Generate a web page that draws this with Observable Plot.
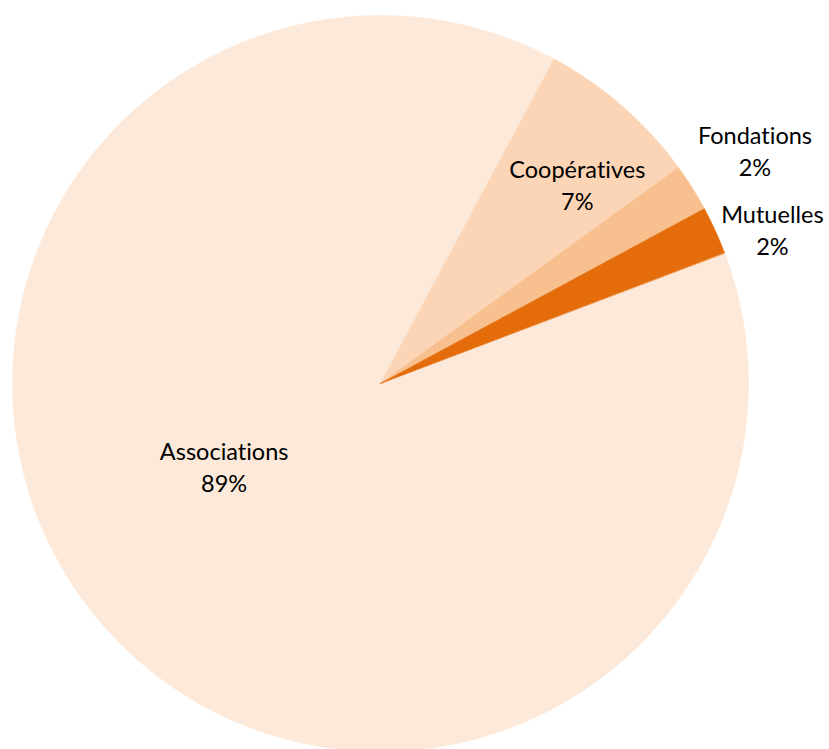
<!DOCTYPE html>
<html>
<head>
<meta charset="utf-8">
<script src="https://cdn.jsdelivr.net/npm/d3@7"></script>
<script src="https://cdn.jsdelivr.net/npm/@observablehq/plot@0.6"></script>
<style>
  html, body { margin: 0; padding: 0; background: #ffffff; overflow: hidden; }
  #chart svg { display: block; }
  #chart svg text { font-variant-ligatures: none; font-feature-settings: "liga" 0, "clig" 0; }
</style>
</head>
<body>
<div id="chart"></div>
<script>
// ---- data ----
const categories = ["Associations", "Coopératives", "Fondations", "Mutuelles"];
const shares = [88.6, 7.2, 2.1, 2.1];            // percent of total
const shareLabels = ["89%", "7%", "2%", "2%"];
const sliceColors = ["#FDE9D9", "#FBD5B5", "#F9C08F", "#E46C0A"];

// ---- layout (not data) ----
const firstSliceAngleDeg = 69.2;                  // clockwise from 12 o'clock
const labelPolar = [                              // [angle deg clockwise from top, radius fraction]
  [241.6, 0.483],
  [44.8, 0.759],
  [58.3, 1.196],
  [68.7, 1.143]
];

const rows = categories.map((name, i) => ({name, value: shares[i], label: name + "\n" + shareLabels[i]}));

const start = firstSliceAngleDeg * Math.PI / 180;
const arcs = d3.pie().sort(null).value(d => d.value).startAngle(start).endAngle(start + 2 * Math.PI)(rows);

// polygon outline of each slice in unit-circle data coordinates
const slicePoints = [];
arcs.forEach(a => {
  const name = a.data.name;
  slicePoints.push({name, x: 0, y: 0});
  const steps = Math.max(2, Math.ceil((a.endAngle - a.startAngle) / (0.25 * Math.PI / 180)));
  for (let k = 0; k <= steps; k++) {
    const t = a.startAngle + (a.endAngle - a.startAngle) * k / steps;
    slicePoints.push({name, x: Math.sin(t), y: Math.cos(t)});
  }
});

const labelRows = rows.map((r, i) => {
  const t = labelPolar[i][0] * Math.PI / 180;
  return {label: r.label, x: labelPolar[i][1] * Math.sin(t), y: labelPolar[i][1] * Math.cos(t)};
});

const chart = Plot.plot({
  width: 829,
  height: 749,
  margin: 0,
  x: {domain: [-1, 1], range: [12, 748], axis: null},
  y: {domain: [-1, 1], range: [751, 15], axis: null},
  color: {domain: categories, range: sliceColors},
  style: {fontFamily: "Lato, 'Open Sans', sans-serif", background: "#ffffff", overflow: "visible"},
  marks: [
    Plot.line(slicePoints, {
      x: "x", y: "y", z: "name",
      fill: "name", stroke: "name", strokeWidth: 0.6,
      curve: "linear-closed"
    }),
    Plot.text(labelRows, {
      x: "x", y: "y", text: "label", dy: -2,
      fontSize: 23.5, lineHeight: 1.36,
      fill: "#000000", textAnchor: "middle", lineAnchor: "middle"
    })
  ]
});

document.getElementById("chart").appendChild(chart);
</script>
</body>
</html>
